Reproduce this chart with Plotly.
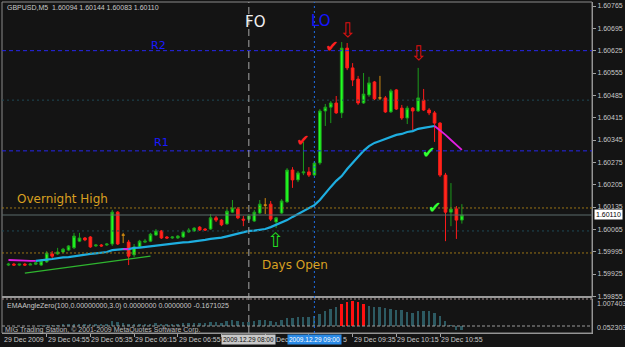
import plotly.graph_objects as go
import pandas as pd

# ---------------- data ----------------
symbol_header = "GBPUSD,M5\u00a0\u00a01.60094 1.60144 1.60083 1.60110"

opens = [1.59953, 1.59956, 1.59953, 1.59956, 1.59953, 1.59956, 1.59953, 1.59963, 1.59988, 1.59988,
         1.59994, 1.60000, 1.60007, 1.60028, 1.60038, 1.60041, 1.60013, 1.60016, 1.60016, 1.60019,
         1.60119, 1.60047, 1.60025, 1.59985, 1.60010, 1.60025, 1.60028, 1.60047, 1.60060, 1.60041,
         1.60038, 1.60038, 1.60041, 1.60057, 1.60060, 1.60072, 1.60066, 1.60066, 1.60101, 1.60094,
         1.60082, 1.60119, 1.60129, 1.60097, 1.60097, 1.60091, 1.60116, 1.60141, 1.60144, 1.60088,
         1.60116, 1.60151, 1.60251, 1.60220, 1.60242, 1.60245, 1.60235, 1.60273, 1.60436, 1.60448,
         1.60461, 1.60430, 1.60633, 1.60571, 1.60536, 1.60461, 1.60486, 1.60527, 1.60477, 1.60477,
         1.60433, 1.60502, 1.60445, 1.60414, 1.60445, 1.60436, 1.60470, 1.60439, 1.60430, 1.60398,
         1.60235, 1.60119, 1.60129, 1.60094]
highs = [1.59960, 1.59960, 1.59956, 1.59960, 1.59960, 1.59963, 1.59972, 1.59997, 1.59997, 1.60007,
         1.60007, 1.60016, 1.60054, 1.60054, 1.60041, 1.60044, 1.60019, 1.60019, 1.60022, 1.60126,
         1.60122, 1.60054, 1.60032, 1.60019, 1.60032, 1.60035, 1.60054, 1.60066, 1.60063, 1.60044,
         1.60044, 1.60047, 1.60060, 1.60069, 1.60072, 1.60075, 1.60069, 1.60113, 1.60107, 1.60097,
         1.60129, 1.60157, 1.60135, 1.60107, 1.60113, 1.60126, 1.60157, 1.60163, 1.60154, 1.60104,
         1.60160, 1.60257, 1.60260, 1.60248, 1.60339, 1.60260, 1.60279, 1.60442, 1.60458, 1.60467,
         1.60483, 1.60652, 1.60649, 1.60586, 1.60546, 1.60555, 1.60543, 1.60530, 1.60546, 1.60483,
         1.60505, 1.60505, 1.60455, 1.60452, 1.60448, 1.60571, 1.60505, 1.60445, 1.60436, 1.60401,
         1.60242, 1.60210, 1.60138, 1.60144]
lows = [1.59950, 1.59950, 1.59950, 1.59950, 1.59953, 1.59953, 1.59950, 1.59960, 1.59975, 1.59985,
        1.59991, 1.59997, 1.60003, 1.60025, 1.60028, 1.60007, 1.60010, 1.60010, 1.60013, 1.60013,
        1.60016, 1.60022, 1.59953, 1.59978, 1.60007, 1.60022, 1.60025, 1.60044, 1.60035, 1.60035,
        1.60035, 1.60035, 1.60038, 1.60054, 1.60057, 1.60060, 1.60060, 1.60063, 1.60088, 1.60075,
        1.60079, 1.60116, 1.60097, 1.60075, 1.60091, 1.60088, 1.60113, 1.60113, 1.60091, 1.60069,
        1.60113, 1.60148, 1.60195, 1.60213, 1.60235, 1.60229, 1.60232, 1.60267, 1.60389, 1.60398,
        1.60427, 1.60414, 1.60564, 1.60514, 1.60455, 1.60458, 1.60480, 1.60470, 1.60470, 1.60430,
        1.60430, 1.60439, 1.60408, 1.60395, 1.60376, 1.60433, 1.60436, 1.60423, 1.60339, 1.60229,
        1.60028, 1.60075, 1.60035, 1.60083]
closes = [1.59956, 1.59953, 1.59956, 1.59953, 1.59956, 1.59960, 1.59966, 1.59991, 1.59981, 1.59994,
          1.60003, 1.60013, 1.60044, 1.60038, 1.60032, 1.60010, 1.60016, 1.60013, 1.60019, 1.60119,
          1.60019, 1.60047, 1.59981, 1.60010, 1.60028, 1.60028, 1.60050, 1.60060, 1.60038, 1.60038,
          1.60041, 1.60044, 1.60057, 1.60063, 1.60069, 1.60063, 1.60063, 1.60101, 1.60094, 1.60079,
          1.60122, 1.60132, 1.60101, 1.60094, 1.60107, 1.60119, 1.60144, 1.60141, 1.60097, 1.60101,
          1.60154, 1.60251, 1.60220, 1.60242, 1.60245, 1.60235, 1.60273, 1.60436, 1.60448, 1.60461,
          1.60430, 1.60633, 1.60571, 1.60533, 1.60461, 1.60489, 1.60524, 1.60474, 1.60477, 1.60433,
          1.60499, 1.60442, 1.60414, 1.60445, 1.60436, 1.60477, 1.60439, 1.60430, 1.60398, 1.60235,
          1.60119, 1.60129, 1.60094, 1.60110]
doji_bars = [21, 47, 68]

ema = [1.59969, 1.59969, 1.59969, 1.59967, 1.59966, 1.59966, 1.59969, 1.59970, 1.59972, 1.59975,
       1.59977, 1.59978, 1.59981, 1.59983, 1.59985, 1.59988, 1.59990, 1.59991, 1.59994, 1.60000,
       1.60002, 1.60003, 1.60003, 1.60007, 1.60008, 1.60010, 1.60013, 1.60016, 1.60018, 1.60019,
       1.60021, 1.60022, 1.60024, 1.60025, 1.60027, 1.60028, 1.60032, 1.60035, 1.60036, 1.60039,
       1.60043, 1.60047, 1.60050, 1.60054, 1.60060, 1.60061, 1.60063, 1.60066, 1.60072, 1.60079,
       1.60085, 1.60094, 1.60104, 1.60113, 1.60122, 1.60132, 1.60141, 1.60157, 1.60179, 1.60198,
       1.60217, 1.60232, 1.60254, 1.60273, 1.60292, 1.60311, 1.60326, 1.60336, 1.60342, 1.60348,
       1.60354, 1.60361, 1.60364, 1.60370, 1.60373, 1.60380, 1.60383, 1.60386, 1.60389, 1.60376,
       1.60361, 1.60345, 1.60329, 1.60314]
# 'u' = rising (blue), 'd' = falling (magenta)
ema_state = "dddddd" + "u" * 16 + "d" + "u" * 56 + "ddddd"

hist = [0, 0, 0, 0, 0, 0, 0.03, 0.04, 0.04, 0.04,
        0.05, 0.05, 0.07, 0.08, 0.07, 0.06, 0.06, 0.05, 0.06, 0.20,
        0.16, 0.12, 0.06, 0.06, 0.08, 0.08, 0.10, 0.12, 0.10, 0.10,
        0.10, 0.10, 0.12, 0.13, 0.14, 0.12, 0.12, 0.18, 0.16, 0.14,
        0.20, 0.23, 0.19, 0.17, 0.18, 0.21, 0.25, 0.23, 0.19, 0.17,
        0.23, 0.33, 0.34, 0.36, 0.36, 0.36, 0.40, 0.48, 0.60, 0.69,
        0.77, 0.89, 0.97, 1.0074, 0.97, 0.89, 0.81, 0.77, 0.77, 0.73,
        0.69, 0.64, 0.64, 0.56, 0.52, 0.60, 0.60, 0.60, 0.52, 0.40,
        0.20, 0.03, -0.16, -0.1671]
hist_red = [61, 62, 63, 64, 65]

r2_level = 1.60625
pivot_a = 1.60470
r1_level = 1.60311
overnight_high = 1.60132
bid_price = 1.60110
pivot_b = 1.60060
days_open = 1.59991

trend_bars = [3, 26]
trend_prices = [1.59928, 1.59981]

fo_bar = 44
lo_bar = 56
label_bars = [7, 15, 23, 31, 39, 47, 55, 63, 71, 79]
hidden_label_bars = [39, 55]       # fully covered by the highlighted session boxes
partial_label_bar = 47             # only "Dec" visible between the boxes
price_ticks = [1.60765, 1.60695, 1.60625, 1.60555, 1.60485, 1.60415, 1.60345, 1.60275,
               1.60205, 1.60135, 1.60065, 1.59995, 1.59925, 1.59855]

times = pd.date_range("2009-12-29 04:20", periods=len(opens), freq="5min")
bars = list(range(len(opens)))

# ---------------- figure ----------------
W, H = 625, 347
L, R, T, B = 2, 29, 2, 14
plot_w = W - L - R
plot_h = H - T - B


def px(x):
    return (x - L) / plot_w


def py(y):
    return (H - B - y) / plot_h


BG = "#141414"
fig = go.Figure()

main_idx = [i for i in bars if i not in doji_bars]
fig.add_trace(go.Candlestick(
    x=[bars[i] for i in main_idx], open=[opens[i] for i in main_idx],
    high=[highs[i] for i in main_idx], low=[lows[i] for i in main_idx],
    close=[closes[i] for i in main_idx],
    increasing=dict(line=dict(color="#1c9a1c", width=1), fillcolor="#22ff22"),
    decreasing=dict(line=dict(color="#ff1a1a", width=1), fillcolor="#ff2a1a"),
    whiskerwidth=0, showlegend=False, xaxis="x", yaxis="y"))
fig.add_trace(go.Candlestick(
    x=doji_bars, open=[opens[i] for i in doji_bars], high=[highs[i] for i in doji_bars],
    low=[lows[i] for i in doji_bars], close=[closes[i] for i in doji_bars],
    increasing=dict(line=dict(color="#d08a10", width=1), fillcolor="#d08a10"),
    decreasing=dict(line=dict(color="#d08a10", width=1), fillcolor="#d08a10"),
    whiskerwidth=0, showlegend=False, xaxis="x", yaxis="y"))

n = len(ema)
blue_y = [ema[k] if (ema_state[k] == "u" or (k + 1 < n and ema_state[k + 1] == "u")) else None for k in range(n)]
mag_y = [ema[k] if (ema_state[k] == "d" or (k + 1 < n and ema_state[k + 1] == "d")) else None for k in range(n)]
fig.add_trace(go.Scatter(x=bars, y=blue_y, mode="lines", line=dict(color="#1eaee0", width=2.2),
                         connectgaps=False, showlegend=False, xaxis="x", yaxis="y"))
fig.add_trace(go.Scatter(x=bars, y=mag_y, mode="lines", line=dict(color="#e21ee2", width=1.8),
                         connectgaps=False, showlegend=False, xaxis="x", yaxis="y"))
fig.add_trace(go.Scatter(x=trend_bars, y=trend_prices, mode="lines", line=dict(color="#2fb52f", width=1.3),
                         showlegend=False, xaxis="x", yaxis="y"))

hist_colors = ["#ff1010" if k in hist_red else "#2d5a62" for k in bars]
fig.add_trace(go.Bar(x=bars, y=hist, marker=dict(color=hist_colors, line=dict(width=0)),
                     width=0.36, showlegend=False, xaxis="x2", yaxis="y2"))

xr = [-(8.5 - L) / 5.5, (L + plot_w - 8.5) / 5.5]
main_bottom = 297
ind_top = 299
main_dom = [py(main_bottom), 1]
ind_dom = [0, py(ind_top)]
ppp = 3.134e-5
y_top = 1.60765 + (6 - T) * ppp
y_bot = 1.60765 - (main_bottom - 6) * ppp
z_px, m_px = 326, 301
unit = (z_px - m_px) / 1.0074
y2_lo = -((H - B) - z_px) / unit
y2_hi = (z_px - ind_top) / unit

small = dict(family="Liberation Sans", size=7, color="#c8c8c8")

fig.update_layout(
    width=W, height=H, margin=dict(l=L, r=R, t=T, b=B),
    paper_bgcolor=BG, plot_bgcolor=BG, bargap=0,
    xaxis=dict(domain=[0, 1], anchor="y", range=xr, showgrid=False, zeroline=False,
               showticklabels=False, ticks="", rangeslider=dict(visible=False), fixedrange=True),
    yaxis=dict(domain=main_dom, anchor="x", side="right", range=[y_bot, y_top], tickvals=price_ticks,
               ticktext=[f"{v:.5f}" for v in price_ticks], tickfont=small, ticks="outside", ticklen=3,
               tickcolor="#a0a0a0", showgrid=False, zeroline=False, showline=True, linecolor="#a0a0a0"),
    xaxis2=dict(domain=[0, 1], anchor="y2", matches="x", range=xr, showgrid=False, zeroline=False,
                tickvals=label_bars, ticktext=["" for _ in label_bars], ticks="outside", ticklen=3,
                tickcolor="#a0a0a0", showline=True, linecolor="#a0a0a0",
                rangeslider=dict(visible=False)),
    yaxis2=dict(domain=ind_dom, anchor="x2", side="right", range=[y2_lo, y2_hi], showgrid=False,
                zeroline=False, showticklabels=False, showline=True, linecolor="#a0a0a0"),
)

shapes = []
shapes.append(dict(type="rect", xref="paper", yref="paper", x0=0, x1=1, y0=0, y1=1,
                   line=dict(color="#8a8a8a", width=1)))
shapes.append(dict(type="line", xref="paper", yref="paper", x0=0, x1=1, y0=py(main_bottom), y1=py(main_bottom),
                   line=dict(color="#9a9a9a", width=2)))
for lvl, col, dash in [(r2_level, "#2626ee", "4px,3px"), (pivot_a, "#1f4a57", "2px,3px"),
                       (r1_level, "#2626ee", "4px,3px"), (overnight_high, "#9a7416", "2px,2px"),
                       (pivot_b, "#1f4a57", "2px,3px"), (days_open, "#9a7416", "2px,2px")]:
    shapes.append(dict(type="line", xref="paper", yref="y", x0=0, x1=1, y0=lvl, y1=lvl,
                       line=dict(color=col, width=1, dash=dash)))
shapes.append(dict(type="line", xref="paper", yref="y", x0=0, x1=1, y0=bid_price, y1=bid_price,
                   line=dict(color="#5b6b6b", width=1)))
shapes.append(dict(type="line", xref="paper", yref="y2", x0=0, x1=1, y0=0, y1=0,
                   line=dict(color="#9a9a9a", width=1, dash="3px,2px")))
shapes.append(dict(type="line", xref="paper", yref="paper", x0=0, x1=1, y0=py(ind_top), y1=py(ind_top),
                   line=dict(color="#a08c8c", width=1, dash="2px,2px")))
shapes.append(dict(type="line", xref="x", yref="paper", x0=fo_bar, x1=fo_bar, y0=0, y1=1,
                   line=dict(color="#a8a8a8", width=1, dash="7px,4px")))
shapes.append(dict(type="line", xref="x", yref="paper", x0=lo_bar, x1=lo_bar, y0=0, y1=1,
                   line=dict(color="#1e6ee8", width=1, dash="2px,3px")))
fig.update_layout(shapes=shapes)

ann = []


def text(x, y, t, size=7, color="#c8c8c8", anchor="left", family="Liberation Sans", **kw):
    ann.append(dict(xref="paper", yref="paper", x=px(x), y=py(y), text=t, showarrow=False,
                    xanchor=anchor, yanchor="middle", font=dict(family=family, size=size, color=color), **kw))


text(5, 8, symbol_header)
text(5, 306, "EMAAngleZero(100,0.00000000,3.0) 0.0000000 0.0000000 -0.1671025")
text(3, 330, "MIG Trading Station, \u00a9 2001-2009 MetaQuotes Software Corp.", color="#bcbcbc")
text(257, 22, "FO", size=15, color="#f0f0f0", anchor="center", family="DejaVu Sans")
text(323, 21, "LO", size=15, color="#1414ff", anchor="center", family="DejaVu Sans")
text(160, 45, "R2", size=11, color="#1a1aff", anchor="center", family="DejaVu Sans")
text(163, 142, "R1", size=11, color="#1a1aff", anchor="center", family="DejaVu Sans")
text(63, 199, "Overnight High", size=12, color="#d9a021", anchor="center", family="DejaVu Sans")
text(297, 265, "Days Open", size=12, color="#d9a021", anchor="center", family="DejaVu Sans")
text(305, 140, "\u2714", size=16, color="#ff2020", anchor="center", family="DejaVu Sans")
text(334, 47, "\u2714", size=16, color="#ff2020", anchor="center", family="DejaVu Sans")
text(431, 152, "\u2714", size=16, color="#33ff33", anchor="center", family="DejaVu Sans")
text(437, 208, "\u2714", size=16, color="#33ff33", anchor="center", family="DejaVu Sans")
text(350, 30, "\u21e9", size=20, color="#d81010", anchor="center", family="DejaVu Sans")
text(421, 53, "\u21e9", size=20, color="#d81010", anchor="center", family="DejaVu Sans")
text(277, 240, "\u21e7", size=20, color="#22dd22", anchor="center", family="DejaVu Sans")
text(599, 303, "1.007403")
text(599, 327, "0.052303")
text(598, 214, f"{bid_price:.5f}", color="#000000", bgcolor="#ffffff", borderpad=1)

# time axis labels
text(2, 339, "29 Dec 2009")
for k in label_bars:
    if k in hidden_label_bars:
        continue
    if k == partial_label_bar:
        ann.append(dict(xref="x", yref="paper", x=k, y=py(339), xshift=9, text=times[k].strftime("%b"),
                        showarrow=False, xanchor="left", yanchor="middle", font=small))
        continue
    ann.append(dict(xref="x", yref="paper", x=k, y=py(339), xshift=-1, text=times[k].strftime("%d %b %H:%M"),
                    showarrow=False, xanchor="left", yanchor="middle", font=small))
ann.append(dict(xref="x", yref="paper", x=hidden_label_bars[1], y=py(339), xshift=32,
                text=times[hidden_label_bars[1]].strftime("%M")[-1], showarrow=False, xanchor="left",
                yanchor="middle", font=small))
for k, bg, fc in [(fo_bar, "#c8c8c8", "#101010"), (lo_bar, "#2a8ae6", "#ffffff")]:
    ann.append(dict(xref="x", yref="paper", x=k, y=py(339), text=times[k].strftime("%Y.%m.%d %H:%M"),
                    showarrow=False, xanchor="center", yanchor="middle", bgcolor=bg, borderpad=1,
                    font=dict(family="Liberation Sans", size=6.5, color=fc)))

fig.update_layout(annotations=ann)
fig.write_html("out.html")
